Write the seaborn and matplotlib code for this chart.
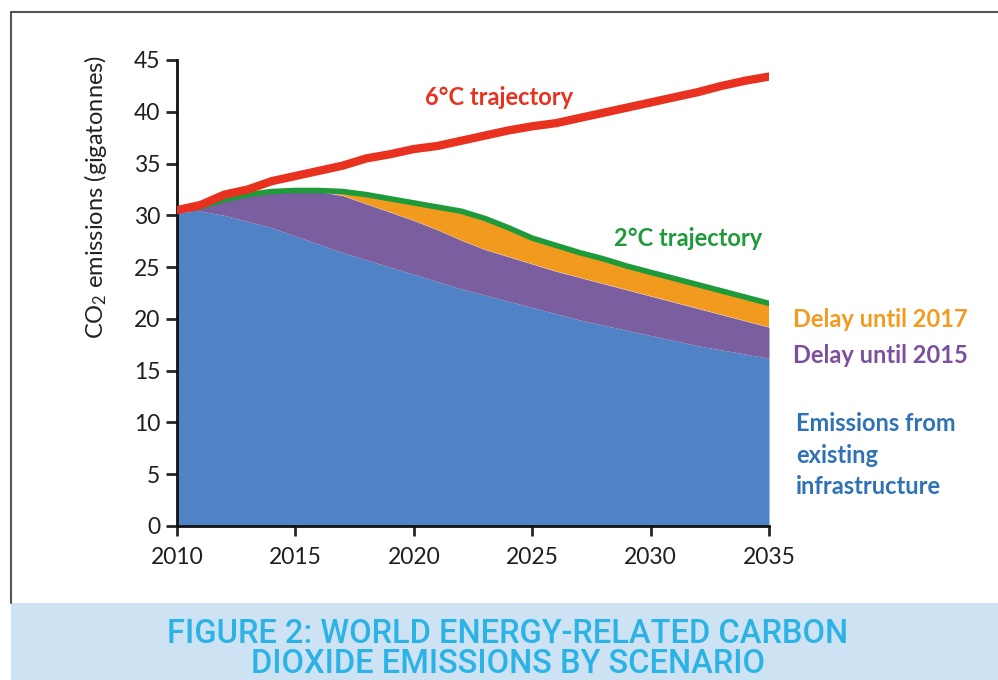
import matplotlib
matplotlib.use("Agg")
import matplotlib.pyplot as plt
import seaborn as sns
import pandas as pd
from matplotlib.patches import Rectangle
from matplotlib.lines import Line2D

years = list(range(2010, 2036))
traj_6c = [30.5, 31.0, 32.0, 32.5, 33.3, 33.8, 34.3, 34.8, 35.5, 35.9, 36.4, 36.7, 37.2,
           37.7, 38.2, 38.6, 38.9, 39.4, 39.9, 40.4, 40.9, 41.4, 41.9, 42.5, 43.0, 43.4]
traj_2c = [30.5, 30.8, 31.5, 32.0, 32.3, 32.4, 32.4, 32.3, 32.0, 31.6, 31.2, 30.8, 30.4,
           29.7, 28.8, 27.8, 27.1, 26.4, 25.8, 25.1, 24.5, 23.9, 23.3, 22.7, 22.1, 21.5]
delay_2015 = [30.4, 30.8, 31.4, 32.0, 32.5, 32.6, 32.3, 31.9, 31.1, 30.3, 29.5, 28.6, 27.6,
              26.7, 26.0, 25.3, 24.6, 24.0, 23.4, 22.8, 22.2, 21.6, 21.0, 20.4, 19.8, 19.2]
existing = [30.3, 30.4, 30.0, 29.4, 28.8, 28.0, 27.2, 26.4, 25.7, 25.0, 24.3, 23.6, 22.9,
            22.3, 21.7, 21.1, 20.5, 19.9, 19.4, 18.9, 18.4, 17.9, 17.4, 17.0, 16.6, 16.2]
x_ticks = [2010, 2015, 2020, 2025, 2030, 2035]
y_ticks = [0, 5, 10, 15, 20, 25, 30, 35, 40, 45]

df = pd.DataFrame({"year": years, "6c": traj_6c, "2c": traj_2c,
                   "d2015": delay_2015, "existing": existing})

sns.set_theme(style="ticks")
plt.rcParams["font.family"] = ["Lato", "DejaVu Sans"]
plt.rcParams["mathtext.fontset"] = "custom"
plt.rcParams["mathtext.rm"] = "Lato"
plt.rcParams["mathtext.it"] = "Lato"

fig = plt.figure(figsize=(9.98, 6.8), dpi=100)
fig.patch.set_facecolor("white")
ax = fig.add_axes([177/998, 1-526/680, (769-177)/998, (526-60)/680])

blue = "#4f83c5"
purple = "#7a5e9f"
orange = "#f29a1e"
green = "#1f9a3b"
red = "#e8321f"

ax.fill_between(df["year"], 0, df["existing"], color=blue, lw=0, zorder=1)
ax.fill_between(df["year"], df["existing"], df["d2015"], color=purple, lw=0, zorder=2)
ax.fill_between(df["year"], df["d2015"], df["2c"], where=df["2c"] >= df["d2015"],
                interpolate=True, color=orange, lw=0, zorder=3)
sns.lineplot(data=df, x="year", y="2c", color=green, lw=4, ax=ax, zorder=4)
sns.lineplot(data=df, x="year", y="6c", color=red, lw=6, ax=ax, zorder=5,
             solid_capstyle="round")

ax.set_xlim(2010, 2035)
ax.set_ylim(0, 45)
ax.set_xticks(x_ticks)
ax.set_yticks(y_ticks)
ax.set_xticklabels([str(t) for t in x_ticks])
ax.set_xlabel("")
ax.set_ylabel("CO$_2$ emissions (gigatonnes)", fontsize=17, color="#222222")
ax.yaxis.set_label_coords(-0.115, 0.706)
for s in ["top", "right"]:
    ax.spines[s].set_visible(False)
for s in ["left", "bottom"]:
    ax.spines[s].set_linewidth(2)
    ax.spines[s].set_color("#111111")
ax.tick_params(axis="y", length=8, width=2, direction="out", labelsize=16.5,
               labelcolor="#1e1e1e", pad=4)
ax.tick_params(axis="x", length=7, width=2, direction="out", labelsize=16.5,
               labelcolor="#1e1e1e", pad=8)
ax.set_facecolor("none")

# annotations
ax.text(2023.6, 41.4, "6°C trajectory", color=red, fontsize=17, fontweight="bold",
        ha="center", va="center")
ax.text(2028.45, 27.8, "2°C trajectory", color=green, fontsize=17, fontweight="bold",
        ha="left", va="center")
ax.text(2036.0, 19.9, "Delay until 2017", color="#f39a1f", fontsize=17, fontweight="bold",
        ha="left", va="center", clip_on=False)
ax.text(2036.0, 16.5, "Delay until 2015", color="#7b4f9e", fontsize=17, fontweight="bold",
        ha="left", va="center", clip_on=False)
for yv, t in zip([9.9, 6.8, 3.8], ["Emissions from", "existing", "infrastructure"]):
    ax.text(2036.15, yv, t, color="#2f72b5", fontsize=17, fontweight="bold",
            ha="left", va="center", clip_on=False)

# frame and caption band
fig.add_artist(Line2D([11/998, 1.0], [1-12/680, 1-12/680], color="#555555", lw=1.5))
fig.add_artist(Line2D([11/998, 11/998], [1-603/680, 1-12/680], color="#555555", lw=1.5))
fig.add_artist(Rectangle((11/998, 0), 1-11/998, 77/680, facecolor="#cde2f3",
                         edgecolor="none", transform=fig.transFigure))
fig.text(508/998, 1-634/680, "FIGURE 2: WORLD ENERGY-RELATED CARBON", color="#2bb3e6",
         fontsize=23.5, fontweight="medium", family=["Roboto", "DejaVu Sans"],
         ha="center", va="center")
fig.text(508/998, 1-664/680, "DIOXIDE EMISSIONS BY SCENARIO", color="#2bb3e6",
         fontsize=23.5, fontweight="medium", family=["Roboto", "DejaVu Sans"],
         ha="center", va="center")

fig.savefig("out.png", dpi=100, facecolor="white")
